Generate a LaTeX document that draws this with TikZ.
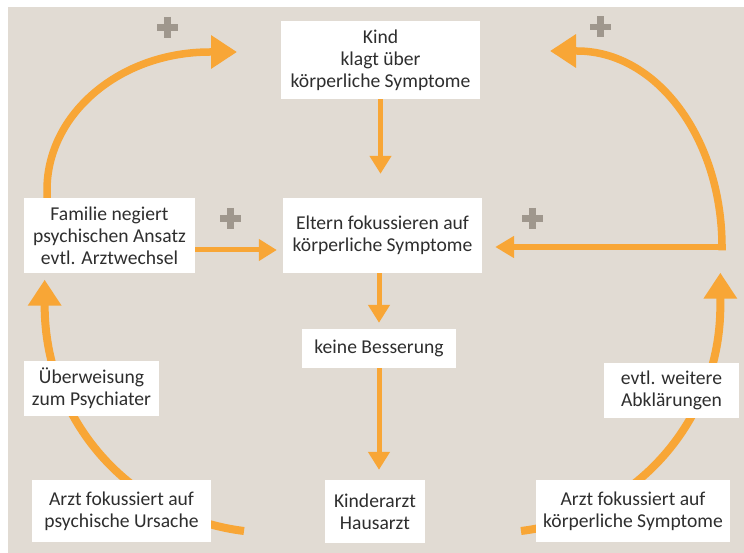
\documentclass[tikz,border=0pt]{standalone}
\usepackage{fontspec}
\setmainfont{Carlito}
\usetikzlibrary{arrows.meta,calc}
\definecolor{bg}{HTML}{E1DBD3}
\definecolor{org}{HTML}{F8A636}
\definecolor{plusg}{HTML}{9F978D}
\definecolor{txt}{HTML}{2E2E2E}
\begin{document}
\begin{tikzpicture}[x=1pt,y=-1pt,
  box/.style={fill=white,inner sep=0pt,align=center,text=txt,font=\fontsize{19.6}{22}\selectfont},
  smallarrow/.style={draw=org,line width=5pt,-{Triangle[length=18pt,width=21pt]}},
  bigarrow/.style={draw=org,line width=7.5pt,-{Triangle[length=26pt,width=32pt]}},
  plussign/.style={draw=plusg,line width=6.5pt}]
\useasboundingbox (0,0) rectangle (744,553);
\fill[white] (0,0) rectangle (744,553);
\fill[bg] (8,7) rectangle (744,553);

% coordinates for loops
\coordinate (ltstart) at (47,205);
\coordinate (lttip) at (237,52);
\coordinate (rcorner) at (722,247);
\coordinate (rttip) at (550,51);
\coordinate (lbstart) at (244,531);
\coordinate (rbstart) at (521,531);

% curved loops (behind boxes)
\draw[bigarrow] (ltstart) -- (47,190) .. controls (47,113.8) and (120,52) .. (210,52) -- (lttip);
\draw[bigarrow] (722,250.5) -- (722,247) .. controls (722,138.7) and (657,51) .. (577,51) -- (rttip);
\draw[draw=org,line width=8pt,-{Triangle[length=26pt,width=32pt]}] (lbstart) arc[start angle=97, end angle=180, radius=227] -- ++(0,-26);
\draw[draw=org,line width=8pt,-{Triangle[length=26pt,width=32pt]}] (rbstart) arc[start angle=83, end angle=0, radius=227] -- ++(0,-33);

% boxes
\node[box,minimum width=199pt,minimum height=78pt] (kind) at (380.5,60) {Kind\\klagt über\\körperliche Symptome};
\node[box,minimum width=199pt,minimum height=75pt] (eltern) at (382.5,235.5) {Eltern fokussieren auf\\körperliche Symptome};
\node[box,minimum width=171pt,minimum height=75pt] (familie) at (109.5,235.5) {Familie negiert\\psychischen Ansatz\\evtl. Arztwechsel};
\node[box,minimum width=154pt,minimum height=39pt] (keine) at (379,348.5) {keine Besserung};
\node[box,minimum width=100pt,minimum height=63pt] (kinderarzt) at (375,511.5) {Kinderarzt\\Hausarzt};
\node[box,minimum width=179pt,minimum height=62pt] (psych) at (121.5,511) {Arzt fokussiert auf\\psychische Ursache};
\node[box,minimum width=194pt,minimum height=62pt] (koerp) at (633,511) {Arzt fokussiert auf\\körperliche Symptome};
\node[box,minimum width=135pt,minimum height=55pt] (ueber) at (91.5,388.5) {Überweisung\\zum Psychiater};
\node[box,minimum width=135pt,minimum height=55pt] (weitere) at (671.5,390.5) {evtl. weitere\\Abklärungen};

% straight arrows
\draw[smallarrow,shorten >=24pt] (kind.south) -- (kind.south |- eltern.north);
\draw[smallarrow,shorten >=6pt] (keine.north |- eltern.south) -- (keine.north);
\draw[smallarrow,shorten >=10pt] (keine.south) -- (keine.south |- kinderarzt.north);
\draw[smallarrow,shorten >=6pt] ($(familie.east)+(0,14.5)$) -- ($(eltern.west)+(0,14.5)$);
\draw[draw=org,line width=6pt,-{Triangle[length=19pt,width=21pt]},shorten >=13pt] ($(rcorner)+(3.75,0)$) -- (eltern.east |- rcorner);

% plus signs
\foreach \p/\c in {p1/{167.5,27.5}, p2/{230.5,218.5}, p3/{600.5,27}, p4/{532.5,218.5}} {
  \coordinate (\p) at (\c);
  \draw[plussign] ($(\p)+(-10.5,0)$) -- ($(\p)+(10.5,0)$);
  \draw[plussign] ($(\p)+(0,-10.5)$) -- ($(\p)+(0,10.5)$);
}
\end{tikzpicture}
\end{document}
